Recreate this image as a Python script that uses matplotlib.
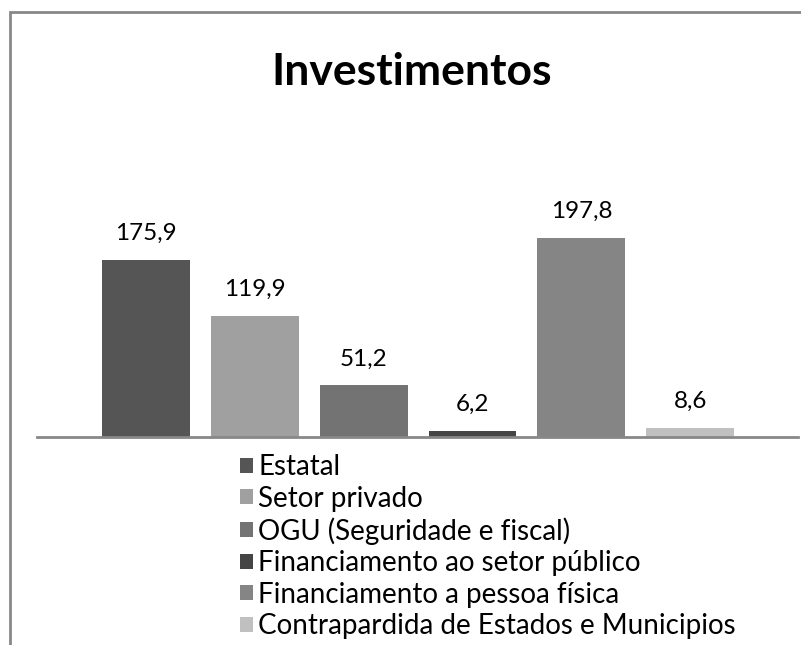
import matplotlib
matplotlib.use('Agg')
import matplotlib.pyplot as plt
from matplotlib.patches import Rectangle

series = ["Estatal", "Setor privado", "OGU (Seguridade e fiscal)",
          "Financiamento ao setor público", "Financiamento a pessoa física",
          "Contrapardida de Estados e Municipios"]
values = [175.9, 119.9, 51.2, 6.2, 197.8, 8.6]
colors = ['#555555', '#a0a0a0', '#737373', '#454545', '#858585', '#c0c0c0']

plt.rcParams['font.family'] = ['Lato', 'DejaVu Sans']

W, H = 801, 645
fig = plt.figure(figsize=(W / 100, H / 100), dpi=100)

# outer chart frame (only top/left visible in the reference)
fig.patches.append(Rectangle((10 / W, -0.1), 1.2, 1.1 - 12 / H,
                             transform=fig.transFigure, fill=False,
                             edgecolor='#888888', linewidth=2))

ax = fig.add_axes([37 / W, (H - 437) / H, (798 - 37) / W, (437 - 130) / H])
handles = []
for i, (name, v, c) in enumerate(zip(series, values, colors)):
    b = ax.bar(i, v, 0.807, color=c, label=name)
    handles.append(b)
    ax.text(i, v + 16, f'{v:.1f}'.replace('.', ','), ha='center', va='bottom',
            fontsize=17.5, color='black')

ax.set_xlim(-1, 5.99)
ax.set_ylim(0, 305)
for s in ['top', 'right', 'left']:
    ax.spines[s].set_visible(False)
ax.spines['bottom'].set_color('#888888')
ax.spines['bottom'].set_linewidth(2)
ax.set_xticks([])
ax.set_yticks([])

fig.text(412 / W, (H - 72) / H, 'Investimentos', ha='center', va='center',
         fontsize=32, fontweight='bold')

fig.legend(handles=handles, labels=series, loc='upper left',
           bbox_to_anchor=(240 / W, (H - 454) / H), frameon=False,
           fontsize=20, handlelength=0.46, handleheight=0.46,
           handletextpad=0.2, labelspacing=0.2, borderpad=0,
           borderaxespad=0)

fig.savefig('out.png', dpi=100)
